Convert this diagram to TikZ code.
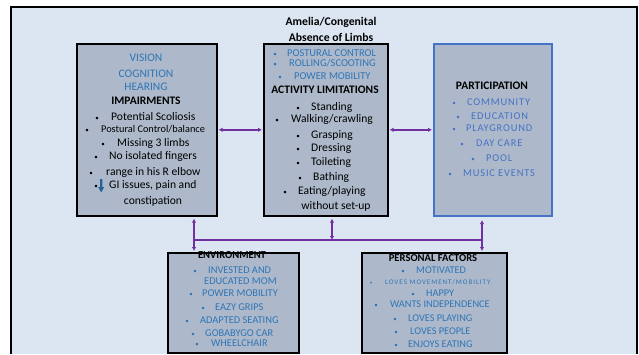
\documentclass[tikz,border=0pt]{standalone}
\usepackage{fontspec}
\setmainfont{Carlito}
\newfontfamily\widefont[LetterSpace=8]{Carlito}
\newfontfamily\tinywide[LetterSpace=14]{Carlito}
\usetikzlibrary{arrows.meta}
\definecolor{bgblue}{HTML}{DCE6F2}
\definecolor{boxfill}{HTML}{ADB9CA}
\definecolor{itemblue}{HTML}{2E75B6}
\definecolor{partblue}{HTML}{4472C4}
\definecolor{linkpurple}{HTML}{7030A0}
\tikzset{
  panel/.style={draw=black, line width=1.6pt, fill=boxfill, inner sep=0, anchor=north west},
  bul/.style={inner sep=0, anchor=mid, font=\fontsize{7}{8}\selectfont},
  txt/.style={inner sep=0, anchor=mid west},
  ctr/.style={inner sep=0, anchor=mid},
  head/.style={inner sep=0, anchor=mid, text=black, font=\bfseries\fontsize{11.5}{13}\selectfont},
  link/.style={draw=linkpurple, line width=1.4pt},
  dbl/.style={link, {Latex[length=4pt,width=4.5pt]}-{Latex[length=4pt,width=4.5pt]}},
}
% one bulleted line: name, bullet x, text x, y, text
\newcommand\itm[5]{%
  \node[bul] (#1-b) at (#2,#4) {\textbullet};
  \node[txt] (#1) at (#3,#4) {#5};}
\begin{document}
\begin{tikzpicture}[x=1pt,y=-1pt]
\useasboundingbox (0,0) rectangle (639,354);
% page frame
\fill[bgblue] (11,7) rectangle (637,354);
\draw[line width=2pt] (11,354) -- (11,7) -- (637,7) -- (637,354);

% title
\node[head, font=\bfseries\fontsize{11.7}{13}\selectfont] (title1) at (331,23) {Amelia/Congenital};
\node[head, font=\bfseries\fontsize{11.7}{13}\selectfont] (title2) at (331,39) {Absence of Limbs};

% panels
\node[panel, minimum width=140pt, minimum height=172pt] (imp) at (76,43) {};
\node[panel, minimum width=124pt, minimum height=172pt] (act) at (263,43) {};
\node[panel, draw=partblue, minimum width=118pt, minimum height=172pt] (par) at (433,43) {};
\node[panel, minimum width=131pt, minimum height=100pt] (env) at (167,252) {};
\node[panel, minimum width=145pt, minimum height=100pt] (per) at (361,252) {};

% impairments
\begin{scope}[every node/.append style={text=itemblue, font=\fontsize{11.5}{13}\selectfont}]
  \node[ctr] (vis) at (146,59) {VISION};
  \node[ctr] (cog) at (146,75) {COGNITION};
  \node[ctr] (hear) at (146,88) {HEARING};
\end{scope}
\node[head] (impt) at (146,102) {IMPAIRMENTS};
\begin{scope}[every node/.append style={font=\fontsize{11.6}{13}\selectfont}]
  \itm{i1}{97}{111}{118}{Potential Scoliosis}
  \itm{i2}{87}{101}{130}{\fontsize{10.3}{12}\selectfont Postural Control/balance}
  \itm{i3}{103}{117}{144}{Missing 3 limbs}
  \itm{i4}{96}{109}{157}{No isolated fingers}
  \itm{i5}{91}{106}{173}{range in his R elbow}
  \itm{i6}{96}{109}{186}{GI issues, pain and}
  \node[ctr] (i7) at (153,202) {constipation};
\end{scope}
% decreased-range arrow
\fill[itemblue!85!black] (100,179) rectangle (102.4,187)
  -- (98.2,187) -- (101.2,192.5) -- (104.2,187) -- cycle;

% activity limitations
\begin{scope}[every node/.append style={text=itemblue, font=\fontsize{10.5}{12}\selectfont}]
  \itm{a1}{275}{287}{54}{POSTURAL CONTROL}
  \itm{a2}{275}{289}{64}{ROLLING/SCOOTING}
  \itm{a3}{280}{294}{77}{POWER MOBILITY}
\end{scope}
\node[head] (actt) at (325,91) {ACTIVITY LIMITATIONS};
\begin{scope}[every node/.append style={font=\fontsize{11.6}{13}\selectfont}]
  \itm{a4}{298}{311}{108}{Standing}
  \itm{a5}{277}{291}{120}{Walking/crawling}
  \itm{a6}{298}{311}{136}{Grasping}
  \itm{a7}{298}{311}{149}{Dressing}
  \itm{a8}{298}{311}{163}{Toileting}
  \itm{a9}{300}{313}{178}{Bathing}
  \itm{a10}{285}{298}{192}{Eating/playing}
  \node[ctr] (a11) at (336,207) {without set-up};
\end{scope}

% participation
\node[head] (part) at (492,87) {PARTICIPATION};
\begin{scope}[every node/.append style={text=partblue, font=\widefont\fontsize{10.4}{12}\selectfont}]
  \itm{p1}{454}{467}{103}{COMMUNITY}
  \itm{p2}{458}{471}{117}{EDUCATION}
  \itm{p3}{454}{466}{129}{PLAYGROUND}
  \itm{p4}{462}{476}{144}{DAY CARE}
  \itm{p5}{473}{486}{159}{POOL}
  \itm{p6}{450}{463}{174}{MUSIC EVENTS}
\end{scope}

% environment
\node[head, font=\bfseries\fontsize{10.6}{12}\selectfont] (envt) at (232,256) {ENVIRONMENT};
\begin{scope}[every node/.append style={text=itemblue, font=\fontsize{10.4}{12}\selectfont}]
  \itm{e1}{195}{208}{271}{INVESTED AND}
  \node[txt] (e1b) at (204,282) {EDUCATED MOM};
  \itm{e2}{191}{202}{294}{POWER MOBILITY}
  \itm{e3}{203}{215}{308}{EAZY GRIPS}
  \itm{e4}{187}{200}{321}{ADAPTED SEATING}
  \itm{e5}{193}{205}{334}{GOBABYGO CAR}
  \itm{e6}{197}{211}{344}{WHEELCHAIR}
\end{scope}

% personal factors
\node[head, font=\bfseries\fontsize{10.6}{12}\selectfont] (pert) at (433,259) {PERSONAL FACTORS};
\begin{scope}[every node/.append style={text=itemblue, font=\fontsize{10.3}{12}\selectfont}]
  \itm{f1}{403}{416}{271}{MOTIVATED}
  \node[bul, font=\fontsize{5}{6}\selectfont] (f2-b) at (371,282) {\textbullet};
  \node[txt, font=\tinywide\fontsize{7}{8}\selectfont] (f2) at (385,282) {LOVES MOVEMENT/MOBILITY};
  \itm{f3}{413}{426}{294}{HAPPY}
  \itm{f4}{376}{390}{305}{WANTS INDEPENDENCE}
  \itm{f5}{395}{408}{319}{LOVES PLAYING}
  \itm{f6}{396}{410}{332}{LOVES PEOPLE}
  \itm{f7}{396}{408}{345}{ENJOYS EATING}
\end{scope}

% connectors
\coordinate (j1) at (194,240);
\coordinate (j2) at (332,240);
\coordinate (j3) at (482,240);
\draw[dbl, shorten <=1pt, shorten >=1pt] (imp.east) -- (act.west);
\draw[dbl, shorten <=1pt, shorten >=1pt] (act.east) -- (par.west);
\draw[link] (j1) -- (j3);
\draw[dbl, shorten <=2pt, shorten >=1pt] (imp.south -| j1) -- (env.north -| j1);
\draw[dbl, shorten <=2pt] (act.south -| j2) -- (j2);
\draw[dbl, shorten <=3.5pt, shorten >=1pt] (par.south -| j3) -- (per.north -| j3);
\end{tikzpicture}
\end{document}
